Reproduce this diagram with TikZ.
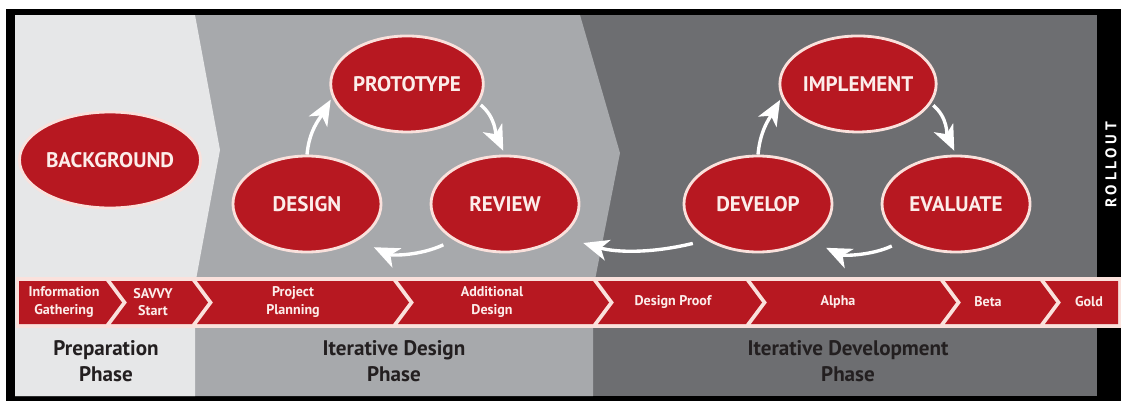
\documentclass[tikz,border=0pt]{standalone}
\usepackage{fontspec}
\setmainfont{PT Sans}
\usetikzlibrary{positioning, arrows.meta, shapes.geometric}
\definecolor{lightpanel}{RGB}{230,231,232}
\definecolor{midpanel}{RGB}{167,169,172}
\definecolor{darkpanel}{RGB}{109,110,113}
\definecolor{stagered}{RGB}{183,24,33}
\definecolor{rimpink}{RGB}{250,225,220}
\definecolor{phasetext}{RGB}{35,31,32}

\begin{document}
\begin{tikzpicture}[x=0.025cm, y=-0.025cm, node distance=3cm and 2.5cm, on grid,
    stagenode/.style={ellipse, draw=rimpink, line width=2pt, fill=stagered, minimum width=3.7cm, minimum height=2.4cm, inner sep=0pt, text=rimpink!60!white, font=\fontsize{15}{16}\selectfont\bfseries},
    cyclearrow/.style={-{Stealth[length=18pt, width=15pt, inset=5pt]}, draw=white, line width=2.4pt},
    barseg/.style={fill=stagered},
    seglabel/.style={text=rimpink!60!white, font=\fontsize{10}{12.5}\selectfont\bfseries, align=center},
    phaselabel/.style={text=phasetext, font=\fontsize{15}{18}\selectfont\bfseries, align=center}]
  \useasboundingbox (0,0) rectangle (1125,401);
  \fill[white] (0,0) rectangle (1125,401);
  \fill[black] (6,9) rectangle (1121,401);
  \fill[darkpanel] (15,15) rectangle (1097,396);
  \fill[midpanel] (15,15) -- (580,15) -- (620,153) -- (593,290) -- (593,396) -- (15,396) -- cycle;
  \fill[lightpanel] (15,15) -- (195,15) -- (220,150) -- (195,285) -- (195,396) -- (15,396) -- cycle;

  \fill[rimpink] (16,277) rectangle (1121,328);
  \fill[barseg] (19,281) -- (106,281) -- (122,302.5) -- (106,324) -- (19,324) -- cycle;
  \foreach \xl/\xr in {111/192, 197/393, 398/593, 598/746, 751/940, 945/1040}
    \fill[barseg] (\xl,281) -- (\xr,281) -- (\xr+16,302.5) -- (\xr,324) -- (\xl,324) -- (\xl+16,302.5) -- cycle;
  \fill[barseg] (1045,281) -- (1118,281) -- (1118,324) -- (1045,324) -- (1061,302.5) -- cycle;

  \node[seglabel] (info) at (64,302) {Information\\Gathering};
  \node[seglabel] (savvy) at (153,302) {SAVVY\\Start};
  \node[seglabel] (plan) at (293,302) {Project\\Planning};
  \node[seglabel] (adddes) at (492,302) {Additional\\Design};
  \node[seglabel] (proof) at (673,302) {Design Proof};
  \node[seglabel] (alpha) at (838,302) {Alpha};
  \node[seglabel] (beta) at (988,302) {Beta};
  \node[seglabel] (gold) at (1089,302) {Gold};

  \node[phaselabel] (prep) at (106,361) {Preparation\\Phase};
  \node[phaselabel] (itdes) at (394,361) {Iterative Design\\Phase};
  \node[phaselabel] (itdev) at (848,361) {Iterative Development\\Phase};
  \node[rotate=90, text=white, font=\fontsize{11}{12}\selectfont\bfseries\addfontfeature{LetterSpace=25}] (rollout) at (1111,165) {ROLLOUT};

  \node[stagenode] (bg) at (110,160) {BACKGROUND};
  \node[stagenode] (design) at (307,204) {DESIGN};
  \node[stagenode, above right=of design] (proto) {PROTOTYPE};
  \node[stagenode, right=4.95cm of design] (review) {REVIEW};
  \node[stagenode] (develop) at (758,204) {DEVELOP};
  \node[stagenode, above right=of develop] (impl) {IMPLEMENT};
  \node[stagenode, right=4.95cm of develop] (eval) {EVALUATE};

  \draw[cyclearrow, shorten >=2pt] (design.north) to[out=85, in=240] (proto.190);
  \draw[cyclearrow, shorten <=2pt, shorten >=3pt] (proto.-15) to[out=-40, in=115] (review.north);
  \draw[cyclearrow, shorten <=8pt, shorten >=12pt] (review.215) to[bend left=25] (design.-35);
  \draw[cyclearrow, shorten <=10pt, shorten >=16pt] (develop.215) to[bend left=15] (review.-30);
  \draw[cyclearrow, shorten >=2pt] (develop.north) to[out=85, in=240] (impl.190);
  \draw[cyclearrow, shorten <=2pt, shorten >=3pt] (impl.-15) to[out=-40, in=115] (eval.north);
  \draw[cyclearrow, shorten <=10pt, shorten >=13pt] (eval.215) to[bend left=25] (develop.-35);
\end{tikzpicture}
\end{document}
